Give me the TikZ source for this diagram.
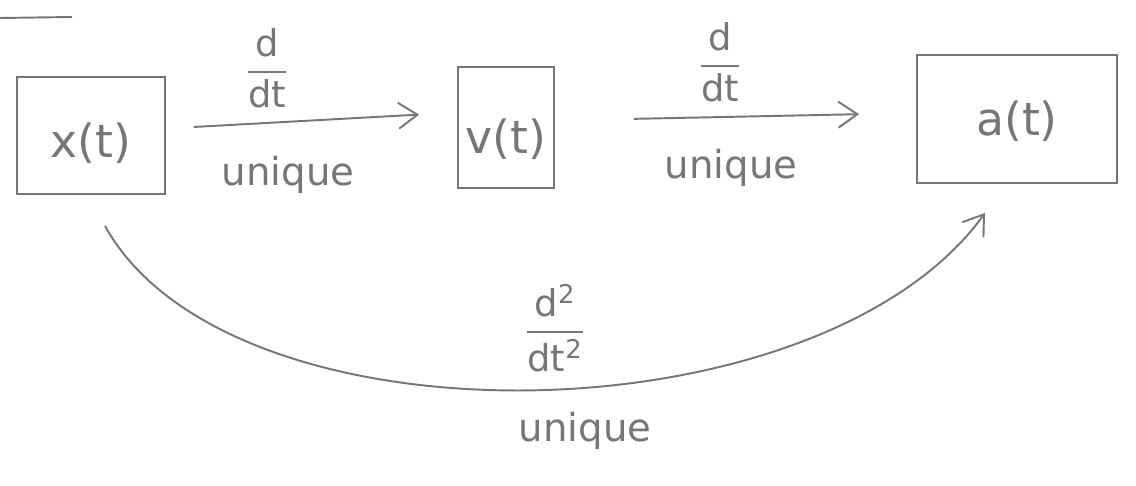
\documentclass[tikz,border=0pt]{standalone}
\usepackage{fix-cm}
\usepackage{fontspec}
\setmainfont{DejaVu Sans}
\usetikzlibrary{arrows.meta,calc}
\definecolor{ink}{RGB}{118,118,118}
\newcommand{\lowered}[2]{\raisebox{-#1}[\height][\depth]{#2}}
\begin{document}
\begin{tikzpicture}[x=0.02cm,y=-0.02cm,
  box/.style={draw=ink, line width=1.1pt, text=ink, font=\fontsize{26}{30}\selectfont, inner sep=0pt},
  lbl/.style={text=ink, font=\fontsize{22}{26}\selectfont, inner sep=0pt},
  frac/.style={text=ink, font=\fontsize{21}{25}\selectfont, inner sep=0pt},
  arr/.style={draw=ink, line width=1.1pt, -{Straight Barb[length=0.38cm,width=0.52cm]}},
  stroke/.style={draw=ink, line width=1.1pt},
]
\fill[white] (0,0) rectangle (1136,486);
\useasboundingbox (0,0) rectangle (1136,486);

% stray underline at top left
\coordinate (ul1) at (0,18);
\coordinate (ul2) at (72,17);
\draw[stroke] (ul1) -- (ul2);

% boxes
\node[box, minimum width=2.96cm, minimum height=2.34cm] (xt) at (91,135.5) {\lowered{4.5pt}{x(t)}};
\node[box, minimum width=1.92cm, minimum height=2.42cm] (vt) at (506,127.5) {\lowered{6.5pt}{v(t)}};
\node[box, minimum width=4.0cm, minimum height=2.56cm] (at) at (1017,119) {\lowered{1pt}{a(t)}};

% straight arrows
\draw[arr, shorten <=0.56cm, shorten >=0.76cm] ([yshift=0.14cm]xt.east) -- ([yshift=0.3cm]vt.west);
\draw[arr, shorten <=1.58cm, shorten >=1.14cm] ([yshift=0.14cm]vt.east) -- ([yshift=0.12cm]at.west);

% curved arrow
\draw[arr] ($(xt.south)+(14,31)$) .. controls (230,452) and (820,442) .. ($(at.south)+(-32,29)$);

% labels
\node[frac] (d1) at (267,68) {$\displaystyle{\mbox{d}\above1.1pt\mbox{dt}}$};
\node[lbl, anchor=base] (u1) at (288,186) {unique};
\node[frac] (d2) at (720,62) {$\displaystyle{\mbox{d}\above1.1pt\mbox{dt}}$};
\node[lbl, anchor=base] (u2) at (731,179) {unique};
\node[frac] (d3) at (555,328) {$\displaystyle{\mbox{d\textsuperscript{2}}\above1.1pt\mbox{dt\textsuperscript{2}}}$};
\node[lbl, anchor=base] (u3) at (585,441) {unique};
\end{tikzpicture}
\end{document}
